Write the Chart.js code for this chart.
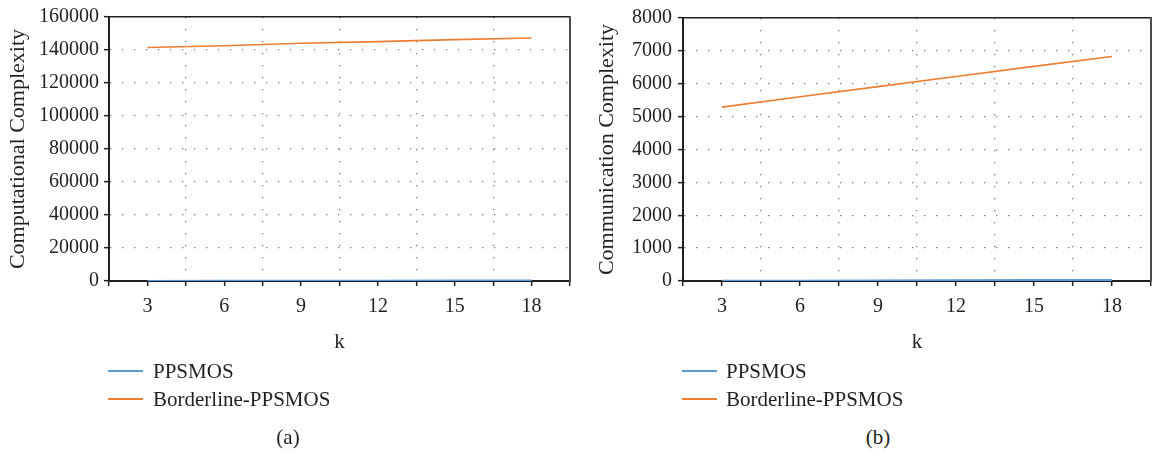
<!DOCTYPE html>
<html><head><meta charset="utf-8">
<script src="https://cdn.jsdelivr.net/npm/chart.js@4.4.1/dist/chart.umd.min.js"></script>
<style>
html,body{margin:0;padding:0;background:#fff;}
body{width:1160px;height:453px;position:relative;overflow:hidden;font-family:'Liberation Serif',serif;color:#231f20;}
.pane{position:absolute;top:0;width:580px;height:360px;}
.leg-text{position:absolute;height:24px;line-height:24px;font-size:21px;white-space:nowrap;}
.leg-line{position:absolute;width:35px;height:2px;}
.cap{position:absolute;width:200px;text-align:center;font-size:21px;line-height:24px;height:24px;}
</style></head><body>
<div class="pane" style="left:0"><canvas id="c1" width="580" height="360"></canvas></div>
<div class="pane" style="left:580px"><canvas id="c2" width="580" height="360"></canvas></div>
<div id="leg1"></div><div id="leg2"></div>
<div class="cap" style="left:188px;top:425px">(a)</div>
<div class="cap" style="left:778px;top:425px">(b)</div>
<script>
// ---- data ----
const kValues = [3, 6, 9, 12, 15, 18];
const seriesNames = ['PPSMOS', 'Borderline-PPSMOS'];
const compPPSMOS = [45, 90, 140, 185, 230, 280];
const compBorderline = [141500, 142560, 144080, 145100, 146310, 147290];
const commPPSMOS = [5, 11, 16, 22, 27, 33];
const commBorderline = [5288, 5604, 5912, 6220, 6529, 6831];
const compYTicks = {min: 0, max: 160000, step: 20000};
const commYTicks = {min: 0, max: 8000, step: 1000};
const kAxis = {min: 1.5, max: 19.5, step: 1.5, labelEvery: 3};
const yTitles = ['Computational Complexity', 'Communication Complexity'];
const xTitle = 'k';

const colors = ['#5B9BD5', '#ED7D31'];
const textColor = '#231f20';
const FONT = "'Liberation Serif', 'Times New Roman', serif";
Chart.defaults.font.family = FONT;
Chart.defaults.color = textColor;

function pts(arr) { return kValues.map((k, i) => ({x: k, y: arr[i]})); }

function makeChart(id, s1, s2, yT, yTitle, yWidth, titlePadTop, tickPad, rightPad) {
  const ctx = document.getElementById(id);
  return new Chart(ctx, {
    type: 'line',
    data: {
      datasets: [
        {label: seriesNames[0], data: pts(s1), borderColor: colors[0], backgroundColor: colors[0], borderWidth: 2, pointRadius: 0, tension: 0},
        {label: seriesNames[1], data: pts(s2), borderColor: colors[1], backgroundColor: colors[1], borderWidth: 1.6, pointRadius: 0, tension: 0}
      ]
    },
    options: {
      responsive: false, animation: false, devicePixelRatio: 1,
      layout: {padding: {top: 17, right: rightPad, left: 0, bottom: 0}},
      plugins: {legend: {display: false}, tooltip: {enabled: false}},
      scales: {
        x: {
          type: 'linear', position: 'bottom', min: kAxis.min, max: kAxis.max,
          afterFit: (s) => { s.height = 79; },
          ticks: {stepSize: kAxis.step, autoSkip: false, maxRotation: 0, minRotation: 0, padding: 9,
            font: {size: 20}, color: textColor,
            callback: (v) => (Math.abs(v % kAxis.labelEvery) < 1e-9 ? String(v) : '')},
          grid: {
            color: (c) => { const v = c.tick ? c.tick.value : 0; return (Math.abs(v % kAxis.labelEvery - kAxis.step) < 1e-9 && v > kAxis.min && v < kAxis.max) ? '#7a7a7a' : 'rgba(0,0,0,0)'; },
            lineWidth: 1.3, tickColor: textColor, tickLength: 5, tickWidth: 1.5, drawTicks: true
          },
          border: {display: true, color: textColor, width: 2, dash: [1.3, 10.7]},
          title: {display: true, text: xTitle, font: {size: 21}, color: textColor, padding: {top: 0, bottom: 5}}
        },
        y: {
          type: 'linear', position: 'left', min: yT.min, max: yT.max,
          afterFit: (s) => { s.width = yWidth; },
          ticks: {stepSize: yT.step, padding: tickPad, font: {size: 20}, color: textColor,
            callback: (v) => String(v)},
          grid: {
            color: (c) => { const v = c.tick ? c.tick.value : 0; return (v > yT.min && v < yT.max) ? '#7a7a7a' : 'rgba(0,0,0,0)'; },
            lineWidth: 1.3, tickColor: textColor, tickLength: 5, tickWidth: 1.5
          },
          border: {display: true, color: textColor, width: 2, dash: [1.3, 10.7]},
          title: {display: true, text: yTitle, font: {size: 22}, color: textColor, padding: {top: titlePadTop, bottom: 0}}
        },
        x2: {
          type: 'linear', position: 'top', display: true,
          afterFit: (s) => { s.height = 0; },
          ticks: {display: false}, grid: {drawOnChartArea: false, drawTicks: false},
          border: {display: true, color: textColor, width: 1.5}
        },
        y2: {
          type: 'linear', position: 'right', display: true,
          afterFit: (s) => { s.width = 0; },
          ticks: {display: false}, grid: {drawOnChartArea: false, drawTicks: false},
          border: {display: true, color: '#4d4d4d', width: 2}
        }
      }
    }
  });
}

const ch1 = makeChart('c1', compPPSMOS, compBorderline, compYTicks, yTitles[0], 109, 5, 5, 10);
const ch2 = makeChart('c2', commPPSMOS, commBorderline, commYTicks, yTitles[1], 103, 14, 6, 2);

function buildLegend(chart, containerId, lineLeft, textLeft) {
  const el = document.getElementById(containerId);
  const rowTops = [359, 387];
  chart.data.datasets.forEach((ds, i) => {
    const ln = document.createElement('div');
    ln.className = 'leg-line';
    ln.style.left = lineLeft + 'px';
    ln.style.top = (rowTops[i] + 11) + 'px';
    ln.style.background = ds.borderColor;
    el.appendChild(ln);
    const tx = document.createElement('div');
    tx.className = 'leg-text';
    tx.style.left = textLeft + 'px';
    tx.style.top = rowTops[i] + 'px';
    tx.textContent = ds.label;
    el.appendChild(tx);
  });
}
buildLegend(ch1, 'leg1', 108, 153);
buildLegend(ch2, 'leg2', 682, 726);
</script>
</body></html>
